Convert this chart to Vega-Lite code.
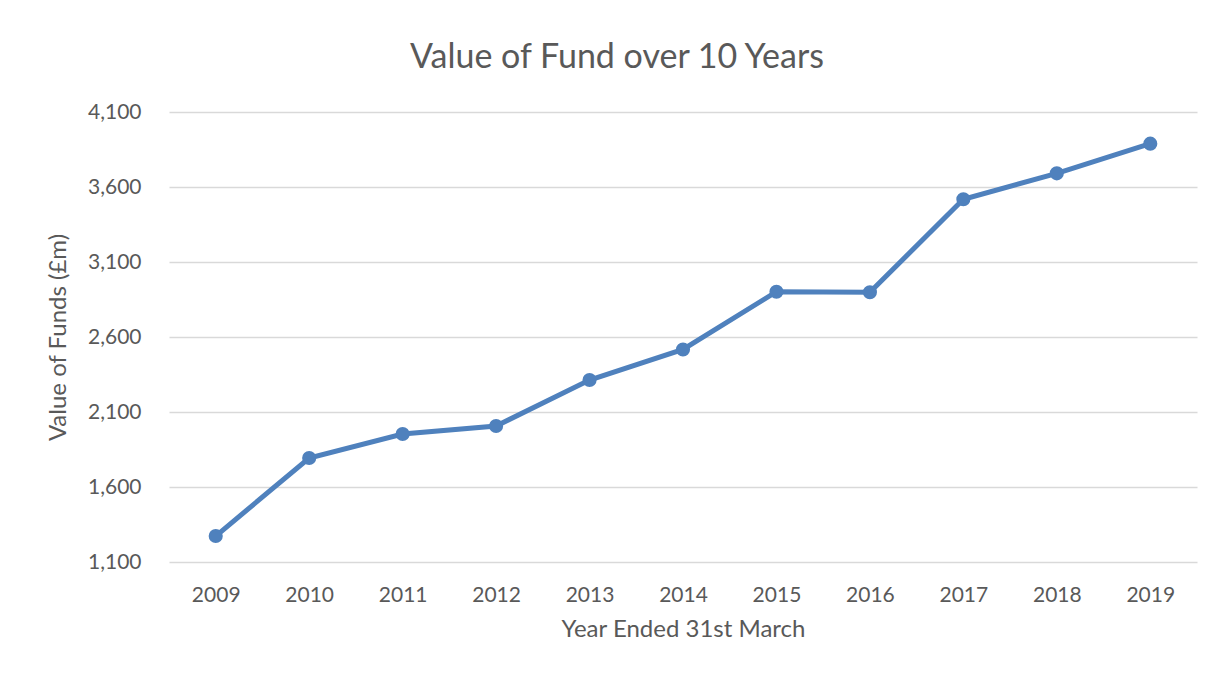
{
  "$schema": "https://vega.github.io/schema/vega-lite/v6.json",
  "width": 1028,
  "height": 450,
  "autosize": "none",
  "padding": {"left": 169, "top": 112, "right": 16, "bottom": 111},
  "background": "white",
  "title": {
    "text": "Value of Fund over 10 Years",
    "font": "Lato",
    "fontSize": 34,
    "fontWeight": "normal",
    "color": "#595959",
    "anchor": "middle",
    "dx": -66,
    "offset": -1,
    "baseline": "alphabetic"
  },
  "data": {
    "values": [
      {"year": "2009", "value": 1273},
      {"year": "2010", "value": 1793},
      {"year": "2011", "value": 1953},
      {"year": "2012", "value": 2007},
      {"year": "2013", "value": 2313},
      {"year": "2014", "value": 2517},
      {"year": "2015", "value": 2902},
      {"year": "2016", "value": 2898},
      {"year": "2017", "value": 3518},
      {"year": "2018", "value": 3691},
      {"year": "2019", "value": 3889}
    ]
  },
  "mark": {
    "type": "line",
    "color": "#4f81bd",
    "strokeWidth": 5,
    "point": {"filled": true, "size": 200, "color": "#4f81bd", "opacity": 1}
  },
  "encoding": {
    "x": {
      "field": "year",
      "type": "ordinal",
      "scale": {"type": "point", "padding": 0.5},
      "axis": {
        "title": "Year Ended 31st March",
        "labelAngle": 0,
        "domain": false,
        "ticks": false,
        "tickSize": 0,
        "grid": false,
        "labelPadding": 22,
        "titlePadding": 12
      }
    },
    "y": {
      "field": "value",
      "type": "quantitative",
      "scale": {"domain": [1100, 4100], "nice": false, "zero": false},
      "axis": {
        "title": "Value of Funds (£m)",
        "values": [1100, 1600, 2100, 2600, 3100, 3600, 4100],
        "format": ",.0f",
        "domain": false,
        "ticks": false,
        "tickSize": 0,
        "labelPadding": 28,
        "titlePadding": 17
      }
    }
  },
  "config": {
    "view": {"stroke": null},
    "axis": {
      "labelFont": "Lato",
      "labelFontSize": 21,
      "labelColor": "#595959",
      "titleFont": "Lato",
      "titleFontSize": 24,
      "titleFontWeight": "normal",
      "titleColor": "#595959",
      "gridColor": "#d9d9d9",
      "gridWidth": 1.3
    }
  }
}
